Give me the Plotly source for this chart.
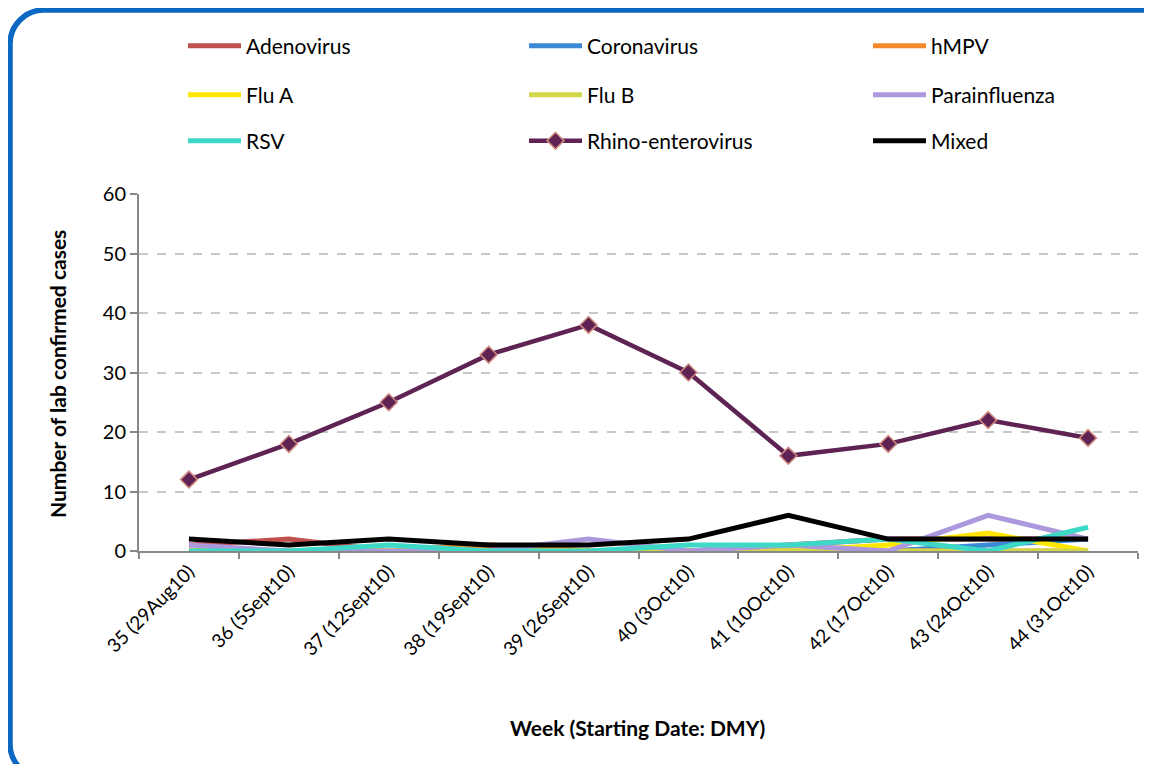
import plotly.graph_objects as go

weeks = ["35 (29Aug10)", "36 (5Sept10)", "37 (12Sept10)", "38 (19Sept10)", "39 (26Sept10)",
         "40 (3Oct10)", "41 (10Oct10)", "42 (17Oct10)", "43 (24Oct10)", "44 (31Oct10)"]

adenovirus = [1, 2, 0, 1, 0, 0, 1, 2, 2, 2]
coronavirus = [0, 0, 0, 0, 0, 0, 0, 0, 1, 2]
hmpv = [0, 0, 0, 1, 0, 0, 0, 0, 0, 0]
flu_a = [0, 0, 0, 0, 0, 0, 0, 1, 3, 0]
flu_b = [0, 0, 0, 0, 0, 0, 0, 0, 0, 0]
parainfluenza = [1, 0, 0, 0, 2, 0, 1, 0, 6, 2]
rsv = [0, 0, 1, 0, 0, 1, 1, 2, 0, 4]
rhino = [12, 18, 25, 33, 38, 30, 16, 18, 22, 19]
mixed = [2, 1, 2, 1, 1, 2, 6, 2, 2, 2]

series_names = ["Adenovirus", "Coronavirus", "hMPV", "Flu A", "Flu B", "Parainfluenza",
                "RSV", "Rhino-enterovirus", "Mixed"]
series_values = [adenovirus, coronavirus, hmpv, flu_a, flu_b, parainfluenza, rsv, rhino, mixed]
colors = ["#C0504D", "#3C8AD6", "#F58A2C", "#FFE800", "#D2D74A", "#AC99DD",
          "#3DD8C6", "#5E2352", "#000000"]

# The page body adds an 8px offset; the figure is sized so the page does not overflow.
OFF = 8
W, H = 1152 - 2 * OFF, 772 - 2 * OFF
# plot area in reference-pixel coordinates
REF_L, REF_R, REF_T, REF_B = 139, 1138, 194, 551
ML, MR = REF_L - OFF, W - (REF_R - OFF)
MT, MB = REF_T - OFF, H - (REF_B - OFF)
PW = W - ML - MR
PH = H - MT - MB


def px(x):  # reference pixel x -> paper
    return (x - OFF - ML) / PW


def py(y):  # reference pixel y -> paper
    return (H - MB - (y - OFF)) / PH


font_family = "Lato, 'Open Sans', sans-serif"

# legend grid: 3 columns x 3 rows (text left edge, row centre), reference pixels
col_text_x = [246, 587, 931]
row_y = [46, 95, 141]

fig = go.Figure()
legend_layouts = {}
for i, (name, vals, col) in enumerate(zip(series_names, series_values, colors)):
    lg = "legend" if i == 0 else f"legend{i + 1}"
    r, c = divmod(i, 3)
    legend_layouts[lg] = dict(
        x=px(col_text_x[c] - 63), y=py(row_y[r]), xanchor="left", yanchor="middle",
        orientation="h", itemwidth=53,
        font=dict(family=font_family, size=21, color="#000000"),
        bgcolor="rgba(0,0,0,0)", itemclick=False, itemdoubleclick=False)
    if name == "Rhino-enterovirus":
        fig.add_trace(go.Scatter(
            x=weeks, y=vals, name=name, mode="lines+markers", legend=lg,
            line=dict(color=col, width=4.5),
            marker=dict(symbol="diamond", size=13, color=col,
                        line=dict(color="#D08C80", width=1.5))))
    else:
        fig.add_trace(go.Scatter(
            x=weeks, y=vals, name=name, mode="lines", legend=lg,
            line=dict(color=col, width=5)))

# rounded blue border (reference pixels)
x0, y0, x1, y1, r = 10, 10, 1178, 778, 34
k = 0.45
path = (f"M {px(x0)},{py(y0 + r)} "
        f"C {px(x0)},{py(y0 + r * k)} {px(x0 + r * k)},{py(y0)} {px(x0 + r)},{py(y0)} "
        f"L {px(x1 - r)},{py(y0)} "
        f"C {px(x1 - r * k)},{py(y0)} {px(x1)},{py(y0 + r * k)} {px(x1)},{py(y0 + r)} "
        f"L {px(x1)},{py(y1 - r)} "
        f"C {px(x1)},{py(y1 - r * k)} {px(x1 - r * k)},{py(y1)} {px(x1 - r)},{py(y1)} "
        f"L {px(x0 + r)},{py(y1)} "
        f"C {px(x0 + r * k)},{py(y1)} {px(x0)},{py(y1 - r * k)} {px(x0)},{py(y1 - r)} Z")
fig.add_shape(type="path", path=path, xref="paper", yref="paper",
              line=dict(color="#0A67C2", width=5.5), layer="above")

fig.update_layout(
    width=W, height=H,
    margin=dict(l=ML, r=MR, t=MT, b=MB, autoexpand=False),
    paper_bgcolor="white", plot_bgcolor="white",
    font=dict(family=font_family, size=18, color="#000000"),
    showlegend=True,
    xaxis=dict(
        type="category", range=[-0.5, 9.5], tickangle=-45,
        showline=True, linecolor="#888888", linewidth=2,
        ticks="outside", tickson="boundaries", ticklen=6, tickcolor="#888888", tickwidth=2,
        showgrid=False, tickfont=dict(family=font_family, size=19, color="#000000"),
    ),
    yaxis=dict(
        range=[0, 60], dtick=10, showline=True, linecolor="#888888", linewidth=2,
        ticks="outside", ticklen=7, tickcolor="#888888", tickwidth=2,
        showgrid=True, gridcolor="#C8C8C8", griddash="dash", gridwidth=1.5,
        zeroline=False, tickfont=dict(family=font_family, size=20, color="#000000"),
    ),
    annotations=[
        dict(text="<b>Week (Starting Date: DMY)</b>", x=px(637), y=py(727),
             xref="paper", yref="paper", showarrow=False,
             font=dict(family=font_family, size=21, color="#000000"),
             xanchor="center", yanchor="middle"),
        dict(text="<b>Number of lab confirmed cases</b>", x=px(57), y=py(374),
             xref="paper", yref="paper", showarrow=False, textangle=-90,
             font=dict(family=font_family, size=21, color="#000000"),
             xanchor="center", yanchor="middle"),
    ],
)
fig.update_layout(**legend_layouts)

fig.write_html("out.html")
